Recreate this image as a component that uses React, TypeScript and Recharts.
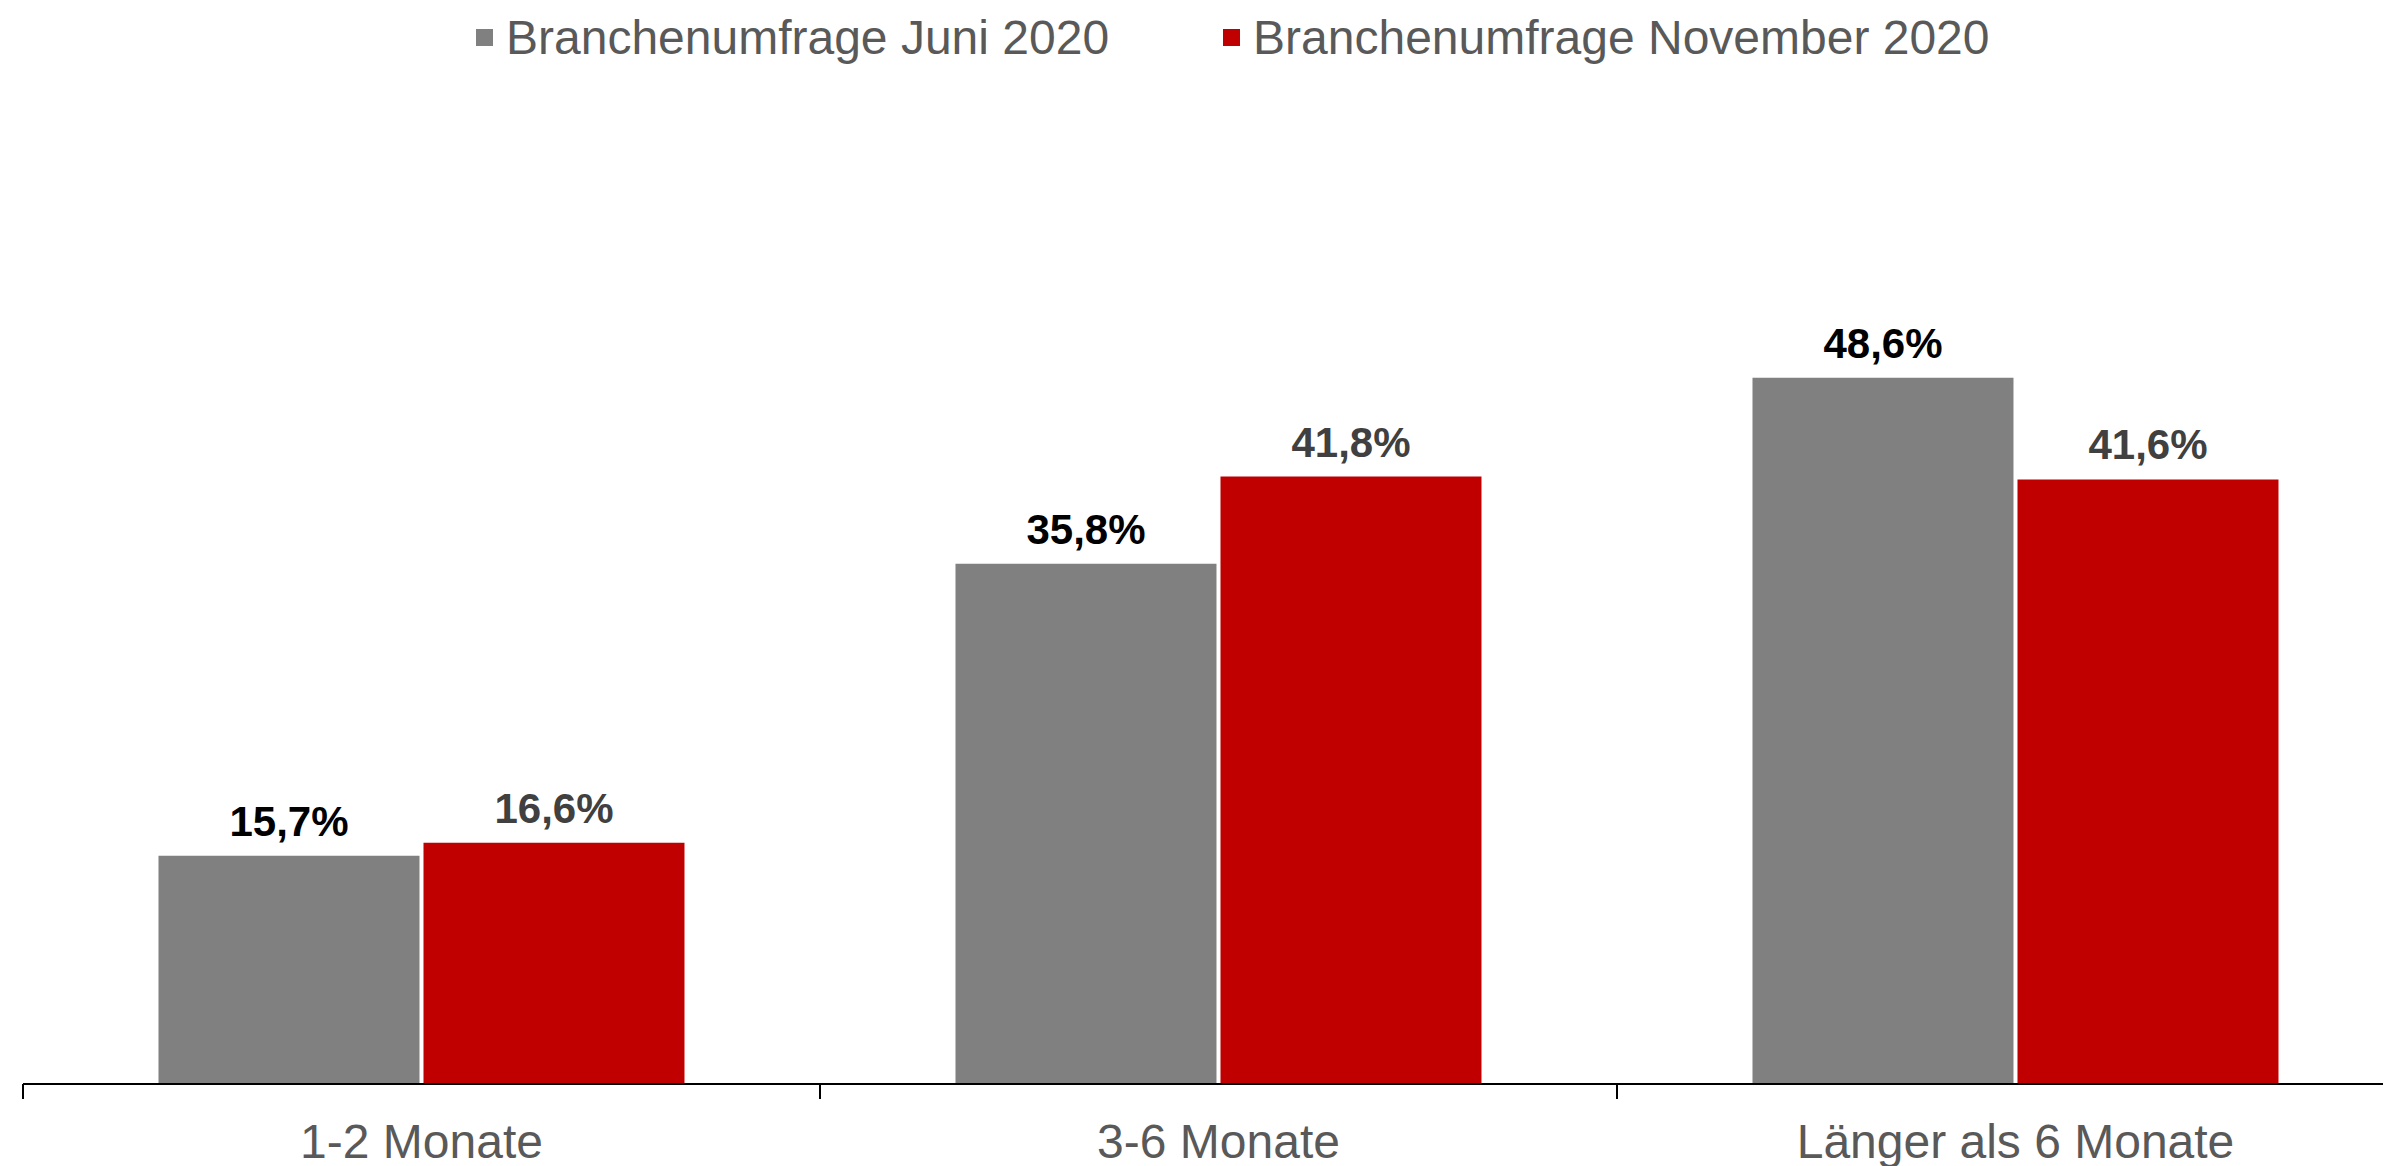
import { BarChart, Bar, XAxis, YAxis, Legend, LabelList } from "recharts";

const categories = ["1-2 Monate", "3-6 Monate", "Länger als 6 Monate"];
const juni2020 = [15.7, 35.8, 48.6];
const november2020 = [16.6, 41.8, 41.6];

const seriesInfo = [
  { key: "juni", name: "Branchenumfrage Juni 2020", color: "#808080", labelColor: "#000000" },
  { key: "november", name: "Branchenumfrage November 2020", color: "#C00000", labelColor: "#404040" },
];

const chartData = categories.map((category, i) => ({
  category,
  juni: juni2020[i],
  november: november2020[i],
}));

const FONT = '"Liberation Sans", Arial, sans-serif';

const formatPercent = (value: any) => `${Number(value).toFixed(1).replace(".", ",")}%`;

const CategoryTick = (props: any) => {
  const { x, y, payload, width, visibleTicksCount, index } = props;
  const band = width / visibleTicksCount;
  const edge = x - band / 2;
  return (
    <g>
      <line x1={edge} x2={edge} y1={y} y2={y + 15} stroke="#000" strokeWidth={2} />
      {index === visibleTicksCount - 1 && (
        <line x1={x + band / 2} x2={x + band / 2} y1={y} y2={y + 15} stroke="#000" strokeWidth={2} />
      )}
      <text
        x={x}
        y={y + 57}
        textAnchor="middle"
        dominantBaseline="central"
        fill="#595959"
        fontSize={48}
        fontFamily={FONT}
      >
        {payload.value}
      </text>
    </g>
  );
};

const LegendContent = () => (
  <div style={{ display: "flex", alignItems: "center", fontFamily: FONT, fontSize: 48, color: "#595959", whiteSpace: "nowrap" }}>
    {seriesInfo.map((s, i) => (
      <div key={s.key} style={{ display: "flex", alignItems: "center", marginRight: i === 0 ? 114 : 0 }}>
        <span style={{ display: "inline-block", width: 17, height: 17, background: s.color, marginRight: 13 }} />
        <span>{s.name}</span>
      </div>
    ))}
  </div>
);

const App = () => {
  return (
    <div style={{ width: 2383, height: 1158, overflow: "hidden", position: "relative" }}>
      <BarChart
        width={2406}
        height={1158}
        data={chartData}
        margin={{ top: 149, right: 0, bottom: 0, left: 15 }}
        barCategoryGap="17%"
        barGap={4}
      >
        <XAxis
          dataKey="category"
          height={82}
          axisLine={{ stroke: "#000", strokeWidth: 2 }}
          tickLine={false}
          tickSize={0}
          tickMargin={0}
          tick={<CategoryTick />}
          interval={0}
        />
        <YAxis hide domain={[0, 60]} />
        <Legend
          layout="vertical"
          align="center"
          verticalAlign="top"
          content={<LegendContent />}
          wrapperStyle={{ position: "absolute", top: 2, left: 468, width: "auto" }}
        />
        {seriesInfo.map((s) => (
          <Bar key={s.key} dataKey={s.key} name={s.name} fill={s.color} isAnimationActive={false}>
            <LabelList
              dataKey={s.key}
              position="top"
              offset={20}
              formatter={formatPercent}
              fill={s.labelColor}
              fontSize={42}
              fontWeight="bold"
              fontFamily={FONT}
            />
          </Bar>
        ))}
      </BarChart>
    </div>
  );
};

export default App;
